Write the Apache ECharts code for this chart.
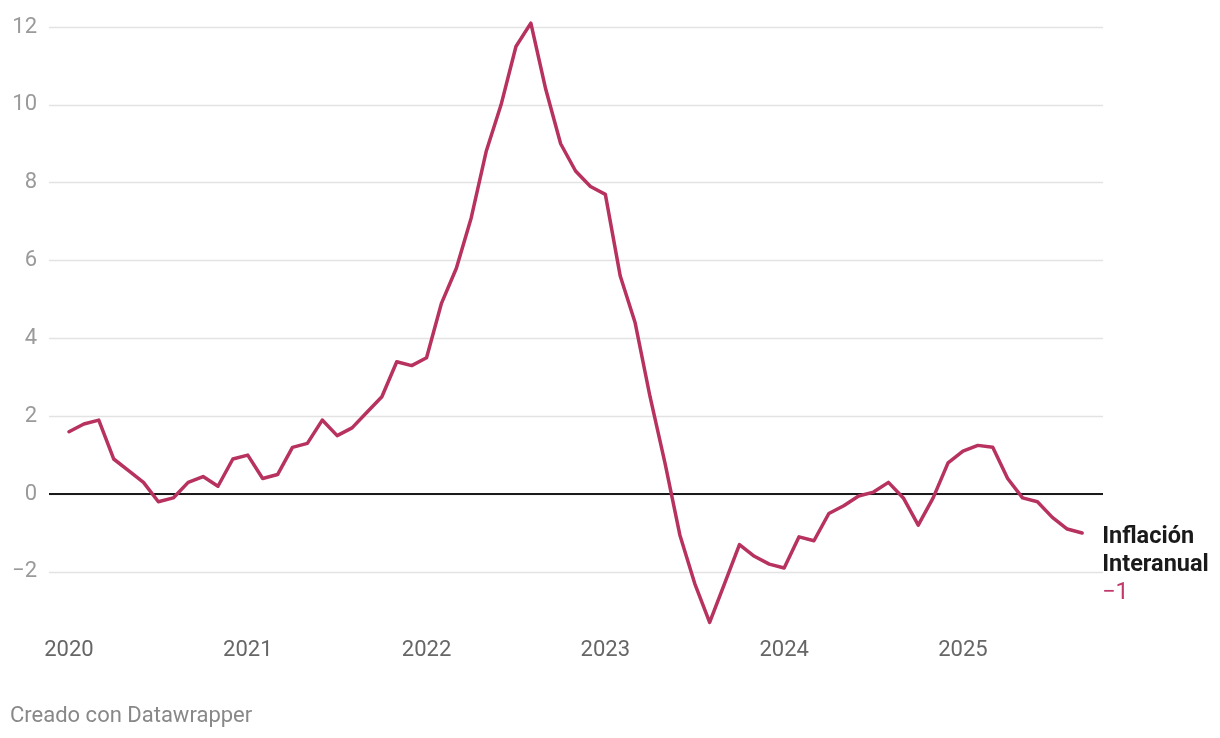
<!DOCTYPE html>
<html>
<head>
<meta charset="utf-8">
<script src="https://cdn.jsdelivr.net/npm/echarts@6/dist/echarts.min.js"></script>
<style>
  html, body { margin: 0; padding: 0; background: #ffffff; }
  #chart { width: 1220px; height: 738px; }
</style>
</head>
<body>
<div id="chart"></div>
<script>
// Monthly year-on-year inflation, Jan 2020 – Sep 2025
const startYear = 2020;
const values2020 = [1.6, 1.8, 1.9, 0.9, 0.6, 0.3, -0.2, -0.1, 0.3, 0.45, 0.2, 0.9];
const values2021 = [1.0, 0.4, 0.5, 1.2, 1.3, 1.9, 1.5, 1.7, 2.1, 2.5, 3.4, 3.3];
const values2022 = [3.5, 4.9, 5.8, 7.1, 8.8, 10.0, 11.5, 12.1, 10.4, 9.0, 8.3, 7.9];
const values2023 = [7.7, 5.6, 4.4, 2.5, 0.8, -1.05, -2.3, -3.3, -2.3, -1.3, -1.6, -1.8];
const values2024 = [-1.9, -1.1, -1.2, -0.5, -0.3, -0.05, 0.05, 0.3, -0.1, -0.8, -0.1, 0.8];
const values2025 = [1.1, 1.25, 1.2, 0.4, -0.1, -0.2, -0.6, -0.9, -1.0];
const yearTicks = [2020, 2021, 2022, 2023, 2024, 2025];
const seriesName = ['Inflación', 'Interanual'];

const allValues = [].concat(values2020, values2021, values2022, values2023, values2024, values2025);
const seriesData = allValues.map((v, i) => [i, v]);
const lastValue = allValues[allValues.length - 1];

const lineColor = '#b7325f';
const minus = v => (v < 0 ? '\u2212' + Math.abs(v) : String(v));

const chart = echarts.init(document.getElementById('chart'), null, { renderer: 'canvas' });
chart.setOption({
  animation: false,
  backgroundColor: '#ffffff',
  textStyle: { fontFamily: 'Roboto, sans-serif' },
  grid: { left: 49, right: 117, top: 27, bottom: 88.3, containLabel: false },
  xAxis: {
    type: 'value',
    min: -1.34,
    max: 69.4,
    axisLine: { show: false },
    axisTick: { show: false },
    splitLine: { show: false },
    axisLabel: {
      customValues: yearTicks.map(y => (y - startYear) * 12),
      formatter: v => String(startYear + Math.round(v / 12)),
      color: '#666666',
      fontSize: 22,
      margin: -10,
      fontFamily: 'Roboto, sans-serif'
    }
  },
  yAxis: {
    type: 'value',
    min: -4,
    max: 12,
    interval: 2,
    axisLine: { show: false },
    axisTick: { show: false },
    splitLine: { show: true, showMinLine: false, lineStyle: { color: '#e3e3e3', width: 1.3 } },
    axisLabel: {
      formatter: v => (v === -4 ? '' : minus(v)),
      color: '#9a9a9a',
      fontSize: 22,
      margin: 12,
      align: 'right',
      fontFamily: 'Roboto, sans-serif'
    }
  },
  series: [{
    type: 'line',
    data: seriesData,
    clip: false,
    showSymbol: false,
    symbol: 'none',
    lineStyle: { color: lineColor, width: 3.5, join: 'round', cap: 'round' },
    itemStyle: { color: lineColor },
    markLine: {
      silent: true,
      symbol: 'none',
      label: { show: false },
      lineStyle: { color: '#1a1a1a', width: 1.8, type: 'solid' },
      data: [{ yAxis: 0 }],
      z: 1
    },
    z: 3,
    endLabel: {
      show: true,
      distance: 20,
      offset: [0, 32],
      align: 'left',
      formatter: () => '{a|' + seriesName[0] + '}\n{a|' + seriesName[1] + '}\n{b|' + minus(Math.round(lastValue)) + '}',
      rich: {
        a: { fontSize: 23.5, fontWeight: 'bold', color: '#1a1a1a', lineHeight: 28, fontFamily: 'Roboto, sans-serif' },
        b: { fontSize: 23.5, color: '#c0386a', lineHeight: 28, fontFamily: 'Roboto, sans-serif' }
      }
    }
  }],
  graphic: [{
    type: 'text',
    left: 10,
    top: 705,
    style: { text: 'Creado con Datawrapper', fill: '#888888', font: '22px Roboto, sans-serif' }
  }]
});
</script>
</body>
</html>
